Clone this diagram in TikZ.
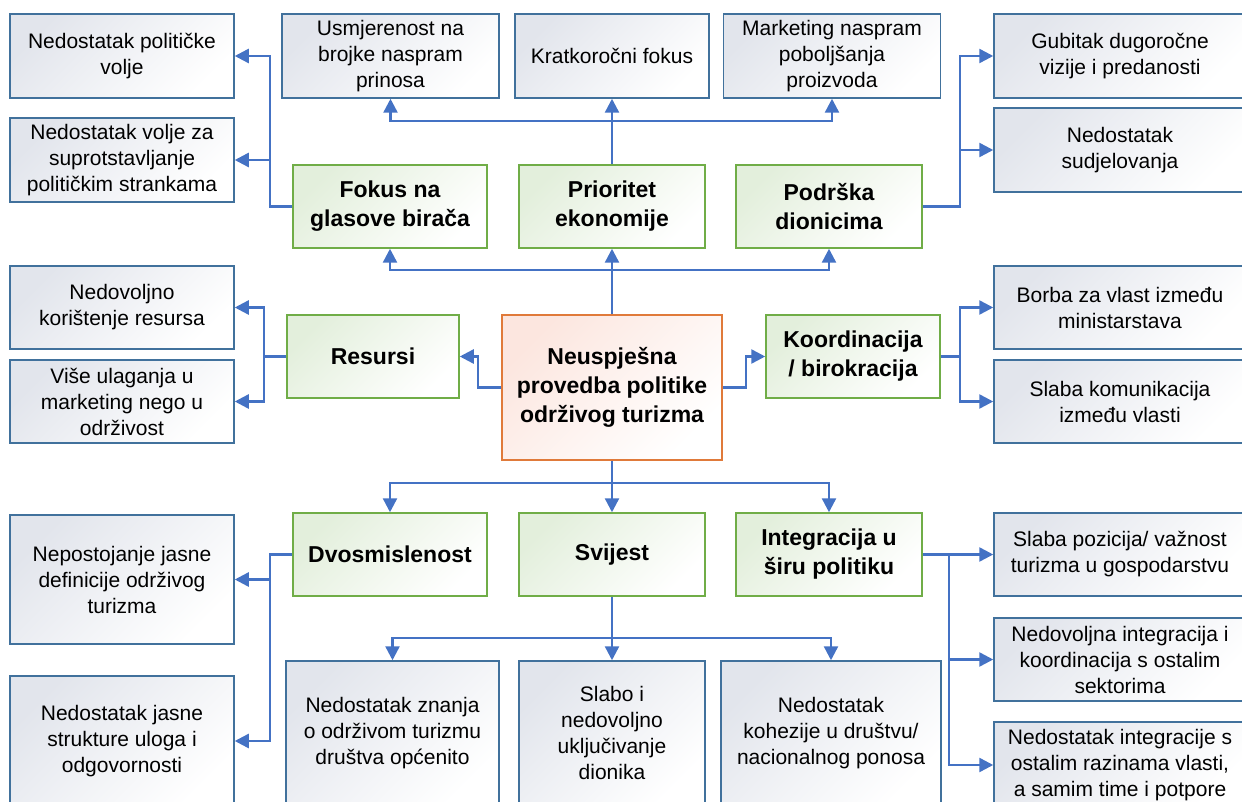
\documentclass[tikz,border=0pt]{standalone}
\usepackage{fontspec}
\setmainfont{Liberation Sans}
\usetikzlibrary{arrows.meta}
\definecolor{linkblue}{HTML}{4472C4}
\definecolor{leafedge}{HTML}{41719C}
\definecolor{leaffill}{HTML}{E2E5EC}
\definecolor{causeedge}{HTML}{70AD47}
\definecolor{causefill}{HTML}{E3EFDC}
\definecolor{rootedge}{HTML}{E07A3A}
\definecolor{rootfill}{HTML}{FCE6DF}
\tikzset{%
  dims/.style 2 args = {minimum width=#1pt, minimum height=#2pt},%
  leaf/.style    = {shape=rectangle, draw=leafedge, line width=1.5pt,%
                    align=center, inner sep=0pt,%
                    top color=leaffill, bottom color=white, shading angle=45,%
                    font=\fontsize{21}{26}\selectfont},%
  cause/.style   = {leaf, draw=causeedge, top color=causefill, bottom color=white,%
                    shading angle=45, font=\fontsize{23}{29}\selectfont\bfseries},%
  problem/.style = {cause, draw=rootedge, top color=rootfill, bottom color=white,%
                    shading angle=45},%
  link/.style    = {draw=linkblue, line width=2.5pt, -{Triangle[length=14pt,width=14pt]}}%
}
\begin{document}
\begin{tikzpicture}[x=1pt,y=-1pt]
  \path[use as bounding box, clip] (0,0) rectangle (1242,802);
  % top row
  \node[leaf, dims={224}{84}] (pv) at (122,56) {Nedostatak političke\\volje};
  \node[leaf, dims={224}{84}] (vs) at (122,160) {Nedostatak volje za\\suprotstavljanje\\političkim strankama};
  \node[leaf, dims={217}{84}] (ub) at (390.5,56) {Usmjerenost na\\brojke naspram\\prinosa};
  \node[leaf, dims={194}{84}] (kf) at (612,56) {Kratkoročni fokus};
  \node[leaf, dims={217}{84}] (mp) at (832,56) {Marketing naspram\\poboljšanja\\proizvoda};
  \node[leaf, dims={252}{84}] (gv) at (1120,56) {Gubitak dugoročne\\vizije i predanosti};
  \node[leaf, dims={252}{84}] (ns) at (1120,150) {Nedostatak\\sudjelovanja};
  % causes
  \node[cause, dims={194}{83}] (fg) at (390,206.5) {Fokus na\\glasove birača};
  \node[cause, dims={186}{83}] (pe) at (612,206.5) {Prioritet\\ekonomije};
  \node[cause, dims={186}{83}] (pd) at (829,206.5) {Podrška\\dionicima};
  \node[cause, dims={172}{83}] (re) at (373,356.5) {Resursi};
  \node[cause, dims={174}{83}] (kb) at (853,356.5) {Koordinacija\\/ birokracija};
  \node[cause, dims={194}{83}] (dv) at (390,554.5) {Dvosmislenost};
  \node[cause, dims={186}{83}] (sv) at (612,554.5) {Svijest};
  \node[cause, dims={186}{83}] (ip) at (829,554.5) {Integracija u\\širu politiku};
  \node[problem, dims={220}{145}] (np) at (612,387.5) {Neuspješna\\provedba politike\\održivog turizma};
  % middle leaves
  \node[leaf, dims={224}{83}] (nk) at (122,307.5) {Nedovoljno\\korištenje resursa};
  \node[leaf, dims={224}{83}] (vu) at (122,401.5) {Više ulaganja u\\marketing nego u\\održivost};
  \node[leaf, dims={252}{83}] (bv) at (1120,307.5) {Borba za vlast između\\ministarstava};
  \node[leaf, dims={252}{83}] (sk) at (1120,401.5) {Slaba komunikacija\\između vlasti};
  % bottom leaves
  \node[leaf, dims={224}{129}] (nd) at (122,579.5) {Nepostojanje jasne\\definicije održivog\\turizma};
  \node[leaf, dims={224}{130}] (sj) at (122,741) {Nedostatak jasne\\strukture uloga i\\odgovornosti};
  \node[leaf, dims={213}{144}] (nz) at (392.5,733) {Nedostatak znanja\\o održivom turizmu\\društva općenito};
  \node[leaf, dims={186}{144}] (su) at (612,733) {Slabo i\\nedovoljno\\uključivanje\\dionika};
  \node[leaf, dims={220}{144}] (kd) at (831,733) {Nedostatak\\kohezije u društvu/\\nacionalnog ponosa};
  \node[leaf, dims={252}{83}] (sp) at (1120,554.5) {Slaba pozicija/ važnost\\turizma u gospodarstvu};
  \node[leaf, dims={252}{83}] (ni) at (1120,659.5) {Nedovoljna integracija i\\koordinacija s ostalim\\sektorima};
  \node[leaf, dims={252}{86}] (nr) at (1120,765) {Nedostatak integracije s\\ostalim razinama vlasti,\\a samim time i potpore};
  % junctions
  \coordinate (topbus) at (612,270);
  \coordinate (pebus)  at (612,121);
  \coordinate (fgj)    at (270,206.5);
  \coordinate (pdj)    at (960,206.5);
  \coordinate (npl)    at (478,387.5);
  \coordinate (rej)    at (264,356.5);
  \coordinate (npr)    at (746,387.5);
  \coordinate (kbj)    at (960,356.5);
  \coordinate (botbus) at (612,483);
  \coordinate (svbus)  at (612,638);
  \coordinate (dvj)    at (270,554.5);
  \coordinate (ipj)    at (949,554.5);
  % connectors
  \draw[link] (np.north) -- (pe.south);
  \draw[link] (topbus) -| (fg.south);
  \draw[link] (topbus) -| (pd.south);
  \draw[link] (pe.north) -- (kf.south);
  \draw[link] (pebus) -| (ub.south);
  \draw[link] (pebus) -| (mp.south);
  \draw[link] (fg.west) -- (fgj) |- (pv.east);
  \draw[link] (fgj) |- (vs.east);
  \draw[link] (pd.east) -- (pdj) |- (gv.west);
  \draw[link] (pdj) |- (ns.west);
  \draw[link] (np.west) -- (npl) |- (re.east);
  \draw[link] (re.west) -- (rej) |- (nk.east);
  \draw[link] (rej) |- (vu.east);
  \draw[link] (np.east) -- (npr) |- (kb.west);
  \draw[link] (kb.east) -- (kbj) |- (bv.west);
  \draw[link] (kbj) |- (sk.west);
  \draw[link] (np.south) -- (sv.north);
  \draw[link] (botbus) -| (dv.north);
  \draw[link] (botbus) -| (ip.north);
  \draw[link] (sv.south) -- (su.north);
  \draw[link] (svbus) -| (nz.north);
  \draw[link] (svbus) -| (kd.north);
  \draw[link] (dv.west) -- (dvj) |- (nd.east);
  \draw[link] (dvj) |- (sj.east);
  \draw[link] (ip.east) -- (sp.west);
  \draw[link] (ipj) |- (ni.west);
  \draw[link] (ipj) |- (nr.west);
\end{tikzpicture}
\end{document}
